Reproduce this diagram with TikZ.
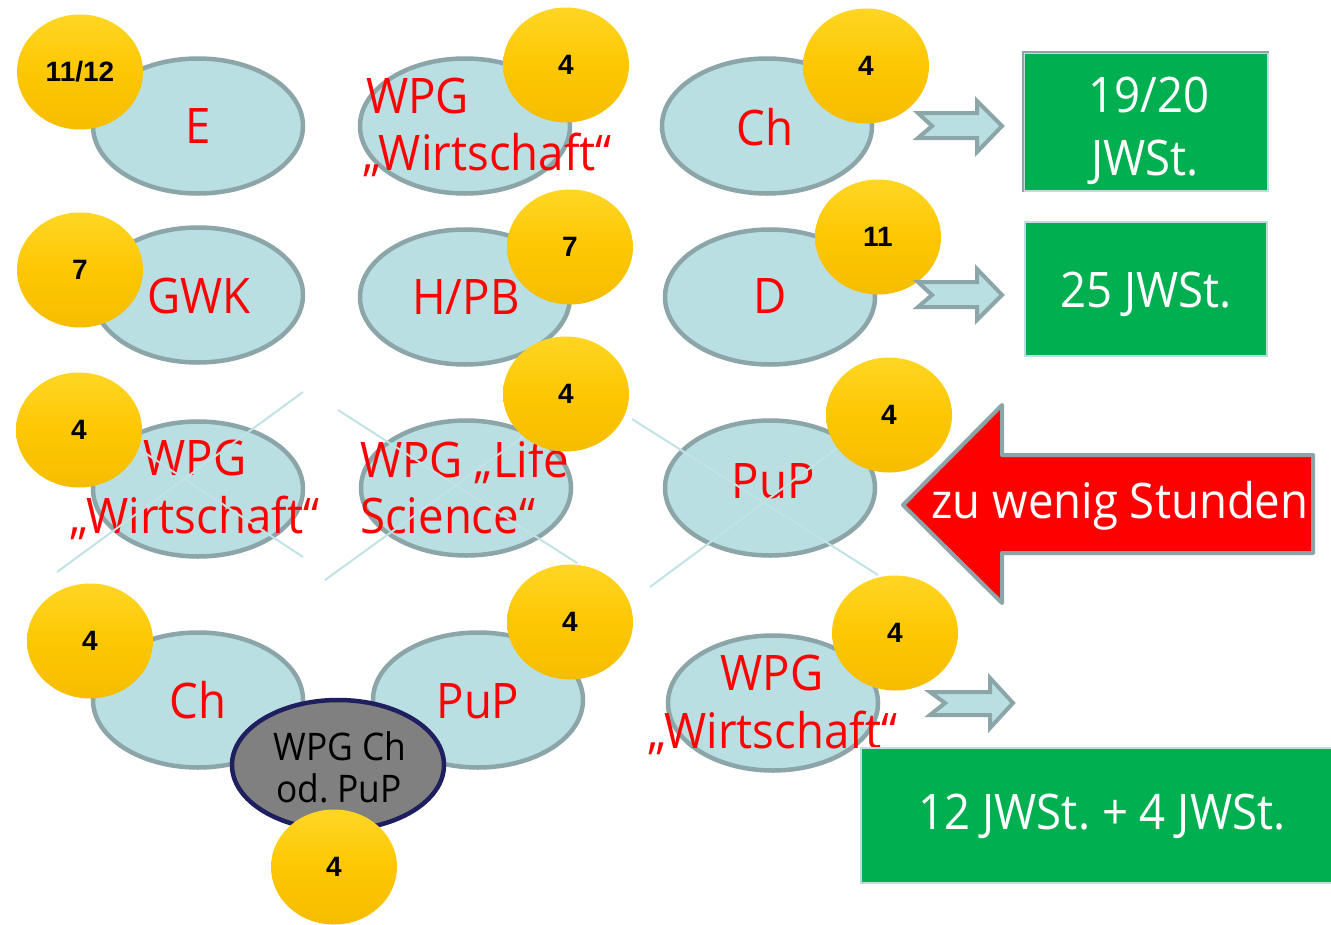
\documentclass[tikz,border=0pt]{standalone}
\usepackage{fontspec}
\setmainfont{Open Sans}[FakeStretch=0.93]
\newfontfamily\numfont{Liberation Sans}
\frenchspacing
\usetikzlibrary{shapes.geometric}
\definecolor{ellfill}{HTML}{B9DFE3}
\definecolor{ellline}{HTML}{8CA5A8}
\definecolor{crossline}{HTML}{C2E3E6}
\definecolor{goldtop}{HTML}{FFD624}
\definecolor{goldmid}{HTML}{FDC703}
\definecolor{goldbot}{HTML}{F6BD00}
\definecolor{boxgreen}{HTML}{00AF50}
\definecolor{boxedge}{HTML}{BFDDE0}
\definecolor{grayfill}{HTML}{808080}
\definecolor{navy}{HTML}{1F1F60}
\begin{document}
\begin{tikzpicture}[x=1pt,y=-1pt,
  bubble/.style={ellipse, draw=ellline, fill=ellfill, line width=4.5pt,
    minimum width=210pt, minimum height=135pt, inner sep=0pt},
  graybubble/.style={ellipse, draw=navy, fill=grayfill, line width=4.5pt,
    minimum width=212pt, minimum height=130pt, inner sep=0pt},
  gold/.style={ellipse, minimum width=126pt, minimum height=115pt, inner sep=0pt,
    top color=goldtop, bottom color=goldbot, middle color=goldmid,
    font=\numfont\bfseries\fontsize{28}{28}\selectfont, text=black},
  redtxt/.style={text=red, inner sep=0pt, font=\fontsize{49}{57}\selectfont},
  whitetxt/.style={text=white, inner sep=0pt, font=\fontsize{49}{57}\selectfont},
  blacktxt/.style={text=black, inner sep=0pt, font=\fontsize{38}{42}\selectfont},
  greenbox/.style={rectangle, fill=boxgreen, draw=boxedge, line width=2pt, inner sep=0pt},
  blockarrow/.style={fill=ellfill, draw=ellline, line width=4pt, line join=miter},
  strike/.style={draw=crossline, line width=2pt}
]
\fill[white] (0,0) rectangle (1331,924);
\useasboundingbox (0,0) rectangle (1331,924);

% ellipses
\node[bubble] (e1) at (198,126) {};
\node[bubble] (e2) at (465,126) {};
\node[bubble] (e3) at (767,126) {};
\node[bubble] (e4) at (198,295) {};
\node[bubble] (e5) at (465,297) {};
\node[bubble] (e6) at (770,297) {};
\node[bubble] (e7) at (198,489) {};
\node[bubble] (e8) at (466,488) {};
\node[bubble] (e9) at (770,488) {};
\node[bubble] (e10) at (198,700) {};
\node[bubble] (e11) at (478,700) {};
\node[bubble] (e12) at (773,703) {};
\node[graybubble] (e13) at (338,765) {};

% red texts
\node[redtxt, anchor=base] (t1) at (198,143) {E};
\node[redtxt, anchor=base west] (t2a) at (366,113) {WPG};
\node[redtxt, anchor=base west] (t2b) at (363,170) {„Wirtschaft“};
\node[redtxt, anchor=base] (t3) at (765,145) {Ch};
\node[redtxt, anchor=base] (t4) at (199,313) {GWK};
\node[redtxt, anchor=base] (t5) at (466,314) {H/PB};
\node[redtxt, anchor=base] (t6) at (770,313) {D};
\node[redtxt, anchor=base] (t7a) at (195,475) {WPG};
\node[redtxt, anchor=base] (t7b) at (195,533) {„Wirtschaft“};
\node[redtxt, anchor=base west] (t8a) at (360,477) {WPG „Life};
\node[redtxt, anchor=base west] (t8b) at (360,533) {Science“};
\node[redtxt, anchor=base] (t9) at (773,498) {PuP};
\node[redtxt, anchor=base] (t10) at (198,718) {Ch};
\node[redtxt, anchor=base] (t11) at (478,718) {PuP};
\node[redtxt, anchor=base] (t12a) at (772,690) {WPG};
\node[redtxt, anchor=base] (t12b) at (773,748) {„Wirtschaft“};
\node[blacktxt, anchor=base] (t13a) at (340,760) {WPG Ch};
\node[blacktxt, anchor=base] (t13b) at (339,802) {od. PuP};

% strike-through crosses on row 3
\coordinate (x1a) at (57,572);  \coordinate (x1b) at (303,392);
\coordinate (x1c) at (57,395);  \coordinate (x1d) at (303,557);
\coordinate (x2a) at (325,580); \coordinate (x2b) at (560,410);
\coordinate (x2c) at (338,410); \coordinate (x2d) at (577,563);
\coordinate (x3a) at (650,587); \coordinate (x3b) at (876,419);
\coordinate (x3c) at (632,419); \coordinate (x3d) at (878,575);
\draw[strike] (x1a) -- (x1b);
\draw[strike] (x1c) -- (x1d);
\draw[strike] (x2a) -- (x2b);
\draw[strike] (x2c) -- (x2d);
\draw[strike] (x3a) -- (x3b);
\draw[strike] (x3c) -- (x3d);

% gold badges
\node[gold] (g1) at (80,72) {11/12};
\node[gold] (g2) at (566,65) {4};
\node[gold] (g3) at (866,66) {4};
\node[gold] (g4) at (80,270) {7};
\node[gold] (g5) at (570,247) {7};
\node[gold] (g6) at (878,237) {11};
\node[gold] (g7) at (79,430) {4};
\node[gold] (g8) at (566,394) {4};
\node[gold] (g9) at (889,415) {4};
\node[gold] (g10) at (90,641) {4};
\node[gold] (g11) at (570,622) {4};
\node[gold] (g12) at (895,633) {4};
\node[gold] (g13) at (334,867) {4};

% block arrows (striped style)
\draw[blockarrow] (918,113) -- (977,113) -- (977,101) -- (1002,126) -- (977,152)
  -- (977,138) -- (918,138) -- (932,126) -- cycle;
\draw[blockarrow] (918,282) -- (977,282) -- (977,269) -- (1002,295) -- (977,320)
  -- (977,307) -- (918,307) -- (932,295) -- cycle;
\draw[blockarrow] (930,692) -- (990,692) -- (990,678) -- (1013,703) -- (990,728)
  -- (990,715) -- (930,715) -- (945,703) -- cycle;

% green boxes
\node[greenbox, minimum width=244pt, minimum height=138pt] (b1) at (1146,122) {};
\draw[ellline, line width=2.5pt] (b1.south west) -- (b1.north west) -- (b1.north east);
\node[whitetxt, anchor=base] (b1a) at (1149,112) {19/20};
\node[whitetxt, anchor=base] (b1b) at (1145,175) {JWSt.};
\node[greenbox, minimum width=242pt, minimum height=134pt] (b2) at (1146,289) {};
\node[whitetxt, anchor=base] (b2a) at (1146,307) {25 JWSt.};
\node[greenbox, minimum width=472pt, minimum height=135pt] (b3) at (1097,815) {};
\node[whitetxt, anchor=base] (b3a) at (1102,829) {12 JWSt. + 4 JWSt.};

% red arrow
\draw[fill=red, draw=ellline, line width=4pt, line join=round]
  (903,505) -- (1002,405) -- (1002,455) -- (1313,455) -- (1313,553)
  -- (1002,553) -- (1002,603) -- cycle;
\node[whitetxt, anchor=base, font=\fontsize{49}{50}\selectfont] (ra) at (1120,518) {zu wenig Stunden};
\end{tikzpicture}
\end{document}
